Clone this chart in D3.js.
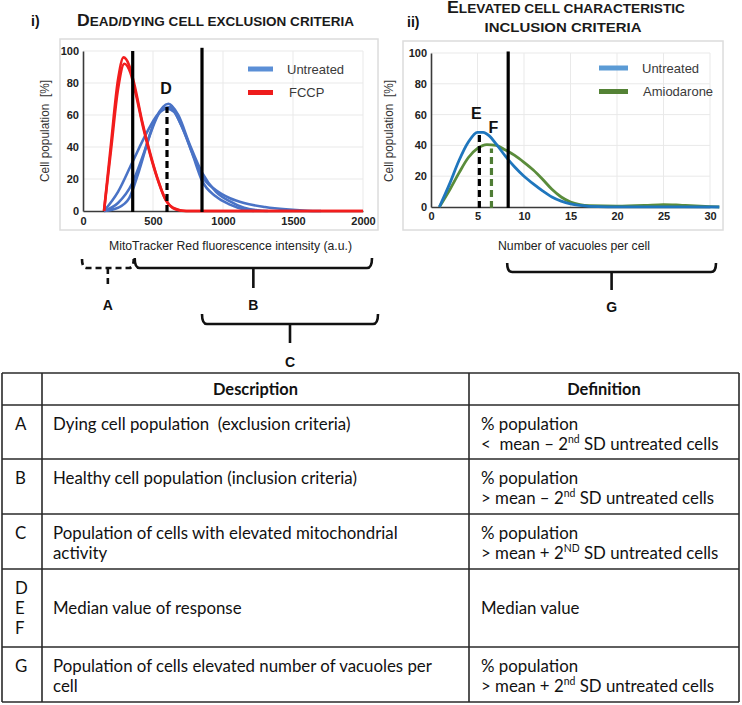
<!DOCTYPE html>
<html>
<head>
<meta charset="utf-8">
<script src="https://cdn.jsdelivr.net/npm/d3@7"></script>
<style>
  body { margin: 0; background: #fff; }
  svg { display: block; }
  text { white-space: pre; }
</style>
</head>
<body>
<svg id="fig" width="742" height="705"></svg>
<script>
// ---- data ----
const mitoTicks = [0, 500, 1000, 1500, 2000];
const vacuoleTicks = [0, 5, 10, 15, 20, 25, 30];
const popTicks = [0, 20, 40, 60, 80, 100];

// MitoTracker Red intensity (a.u.) vs cell population (%)
const untreatedMito1 = [[150,0],[250,12],[350,30],[450,48],[530,60],[600,64],[650,62],[720,50],[800,32],[850,22],[950,13],[1050,8],[1150,5],[1300,2.5],[1450,1],[1600,0.2],[1700,0]];
const untreatedMito2 = [[150,0],[250,5],[350,17],[430,35],[520,58],[610,67],[680,60],[760,42],[850,24],[950,12],[1050,6],[1150,2],[1250,0.5],[1320,0]];
const untreatedMito3 = [[150,0],[250,2],[330,8],[400,25],[480,48],[560,63],[620,65],[700,54],[780,36],[850,19],[950,9],[1050,4],[1150,1],[1220,0]];
const fccpMito1 = [[150,0],[200,42],[250,82],[290,96],[330,91],[370,78],[420,57],[480,36],[530,21],[580,9],[620,3.5],[680,0.8],[730,0],[2000,0]];
const fccpMito2 = [[150,0],[200,38],[250,76],[295,92],[340,86],[380,72],[430,52],[490,32],[540,18],[590,7],[640,2],[700,0.3],[740,0],[2000,0]];
const mitoCutoffs = [355, 850];       // mean -/+ 2nd SD untreated
const mitoCutoffTops = [100, 102];
const mitoMedian = [600, 65];         // D

// number of vacuoles per cell vs cell population (%)
const untreatedVac = [[0.9,0],[2,15],[3,30],[4,42],[5,48.5],[5.6,48.5],[6.3,46],[7,41],[8,33],[9,26],[10,20],[11,15],[12,10.5],[13,6.5],[14,3.8],[15,2],[16,1],[17,0.4],[19,0.1],[31,0]];
const amiodaroneVac = [[0.9,0],[2,11],[3,22],[4,32],[5,38],[6,40.5],[7,40],[8,37],[9,33.5],[10,29],[11,24],[12,18],[13,11.5],[14,6.5],[15,3.2],[16,1.5],[17,0.8],[20,0.5],[23,1],[25,1.6],[27,1.1],[30,0.3],[31,0]];
const vacCutoff = [8.3, 101];
const vacMedianUntreated = [5.2, 48];     // E
const vacMedianAmiodarone = [6.5, 38];    // F

// table
const tableKeys = [["A"], ["B"], ["C"], ["D", "E", "F"], ["G"]];
const tableDescriptions = [
  ["Dying cell population  (exclusion criteria)"],
  ["Healthy cell population (inclusion criteria)"],
  ["Population of cells with elevated mitochondrial", "activity"],
  ["Median value of response"],
  ["Population of cells elevated number of vacuoles per", "cell"]
];
const tableDefinitions = [
  ["% population", "<  mean \u2013 2^nd^ SD untreated cells"],
  ["% population", "> mean \u2013 2^nd^ SD untreated cells"],
  ["% population", "> mean + 2^ND^ SD untreated cells"],
  ["Median value"],
  ["% population", "> mean + 2^nd^ SD untreated cells"]
];

// ---- drawing ----
const svg = d3.select("#fig");
const chartFont = "'Liberation Sans', Arial, sans-serif";
const tableFont = "Lato, 'Open Sans', sans-serif";

function frame(box, x, y, xTicks, yTicks, xPad) {
  const g = svg.append("g");
  g.append("rect")
    .attr("x", box[0]).attr("y", box[1])
    .attr("width", box[2] - box[0]).attr("height", box[3] - box[1])
    .attr("fill", "none").attr("stroke", "#dcdcdc").attr("stroke-width", 1.5);

  g.append("g").selectAll("line").data(xTicks.slice(1)).enter().append("line")
    .attr("x1", d => x(d)).attr("x2", d => x(d))
    .attr("y1", y.range()[0]).attr("y2", y.range()[1])
    .attr("stroke", "#e9e9e9").attr("stroke-width", 1);
  g.append("g").selectAll("line").data(yTicks.slice(1)).enter().append("line")
    .attr("x1", x.range()[0]).attr("x2", x.range()[1])
    .attr("y1", d => y(d)).attr("y2", d => y(d))
    .attr("stroke", "#e9e9e9").attr("stroke-width", 1);

  const ax = g.append("g")
    .attr("transform", `translate(0,${y.range()[0]})`)
    .call(d3.axisBottom(x).tickValues(xTicks).tickSize(0).tickPadding(xPad).tickFormat(d3.format("d")));
  const ay = g.append("g")
    .attr("transform", `translate(${x.range()[0]},0)`)
    .call(d3.axisLeft(y).tickValues(yTicks).tickSize(0).tickPadding(4));
  [ax, ay].forEach(a => {
    a.select(".domain").attr("stroke", "#3a3a3a").attr("stroke-width", 1.6);
    a.selectAll("text").attr("font-family", chartFont).attr("font-weight", "bold")
      .attr("font-size", 11).attr("fill", "#222");
  });
  return g;
}

function curve(x, y, data, color, width) {
  svg.append("path")
    .datum(data)
    .attr("fill", "none")
    .attr("stroke", color)
    .attr("stroke-width", width)
    .attr("stroke-linejoin", "round")
    .attr("d", d3.line().x(d => x(d[0])).y(d => y(d[1])).curve(d3.curveMonotoneX));
}

function vline(x, y, xv, top, color, dashed) {
  svg.append("line")
    .attr("x1", x(xv)).attr("x2", x(xv))
    .attr("y1", y(0) + 1).attr("y2", y(top))
    .attr("stroke", color).attr("stroke-width", 3.2)
    .attr("stroke-dasharray", dashed ? "7,4" : null);
}

function legend(items, x0, y0) {
  items.forEach((it, i) => {
    const yy = y0 + i * 23.5;
    svg.append("line").attr("x1", x0).attr("x2", x0 + it.len).attr("y1", yy).attr("y2", yy)
      .attr("stroke", it.color).attr("stroke-width", 5);
    svg.append("text").attr("x", x0 + it.len + 14 + (it.dx || 0)).attr("y", yy).attr("dy", "0.35em")
      .attr("font-family", chartFont).attr("font-size", 13).attr("fill", "#3a3a3a")
      .text(it.label);
  });
}

function label(txt, x, y, size, opts = {}) {
  const t = svg.append("text").attr("x", x).attr("y", y)
    .attr("font-family", opts.font || chartFont)
    .attr("font-size", size)
    .attr("font-weight", opts.weight || "normal")
    .attr("fill", opts.fill || "#111")
    .attr("text-anchor", opts.anchor || "middle")
    .text(txt);
  if (opts.len) t.attr("textLength", opts.len).attr("lengthAdjust", "spacingAndGlyphs");
  if (opts.rotate) t.attr("transform", `rotate(-90,${x},${y})`);
  if (opts.dy) t.attr("dy", opts.dy);
  return t;
}

// small-caps title: a large first letter (if asked), the rest as smaller capitals
function capsTitle(txt, x, y, big, small, len, anchor, bigFirst) {
  const t = svg.append("text").attr("x", x).attr("y", y)
    .attr("font-family", chartFont).attr("font-weight", "bold").attr("fill", "#1a1a1a")
    .attr("text-anchor", anchor)
    .attr("textLength", len).attr("lengthAdjust", "spacingAndGlyphs");
  const rest = bigFirst ? txt.slice(1) : txt;
  if (bigFirst) t.append("tspan").attr("font-size", big).text(txt[0]);
  t.append("tspan").attr("font-size", small).text(rest.toUpperCase());
  return t;
}

// panel i)
const xM = d3.scaleLinear().domain([0, 2000]).range([83, 363]);
const yM = d3.scaleLinear().domain([0, 100]).range([211, 51]);
frame([60, 39, 378, 230], xM, yM, mitoTicks, popTicks, 6);
[untreatedMito1, untreatedMito2, untreatedMito3].forEach(d => curve(xM, yM, d, "#4a73c6", 2.6));
[fccpMito1, fccpMito2].forEach(d => curve(xM, yM, d, "#f21d1d", 2.6));
mitoCutoffs.forEach((c, i) => vline(xM, yM, c, mitoCutoffTops[i], "#000", false));
vline(xM, yM, mitoMedian[0], mitoMedian[1], "#000", true);
label("D", xM(mitoMedian[0]) - 1, 94, 16, { weight: "bold" });
legend([
  { label: "Untreated", color: "#5b8fd6", len: 25 },
  { label: "FCCP", color: "#ee1c1c", len: 25, dx: 2 }
], 248, 69);
label("Cell population  [%]", 45, 131, 12, { rotate: true, dy: "0.35em", fill: "#333", len: 102 });
label("i)", 31, 26, 14, { weight: "bold", anchor: "start" });
capsTitle("Dead/dying cell exclusion criteria", 77, 26, 16, 12.3, 277, "start", true);
label("MitoTracker Red fluorescence intensity (a.u.)", 230.5, 250, 12.5, { len: 243, fill: "#222" });

// panel ii)
const xV = d3.scaleLinear().domain([0, 30]).range([431, 710]);
const yV = d3.scaleLinear().domain([0, 100]).range([207, 53]);
frame([403, 41, 723, 230], xV, yV, vacuoleTicks, popTicks, 5);
curve(xV, yV, amiodaroneVac, "#5a8c3b", 2.8);
curve(xV, yV, untreatedVac, "#1f76bd", 2.8);
vline(xV, yV, vacCutoff[0], vacCutoff[1], "#000", false);
vline(xV, yV, vacMedianUntreated[0], vacMedianUntreated[1], "#000", true);
vline(xV, yV, vacMedianAmiodarone[0], vacMedianAmiodarone[1], "#4f7d35", true);
label("E", xV(vacMedianUntreated[0]) - 3, 119, 16, { weight: "bold" });
label("F", xV(vacMedianAmiodarone[0]) + 2, 133, 16, { weight: "bold" });
legend([
  { label: "Untreated", color: "#5b9bd5", len: 29 },
  { label: "Amiodarone", color: "#548235", len: 29, dx: 1 }
], 599, 68);
label("Cell population  [%]", 389, 131, 12, { rotate: true, dy: "0.35em", fill: "#333", len: 102 });
label("ii)", 407, 27, 14, { weight: "bold", anchor: "start" });
capsTitle("Elevated cell characteristic", 447, 13, 16, 12.3, 238, "start", true);
capsTitle("inclusion criteria", 563, 32, 16, 12.3, 157, "middle", false);
label("Number of vacuoles per cell", 574, 250, 12.5, { len: 152, fill: "#222" });

// braces
function brace(x1, x2, top, mid, stem, dashed) {
  const r = 5;
  const p = d3.path();
  p.moveTo(x1, top);
  p.quadraticCurveTo(x1, mid, x1 + r, mid);
  p.lineTo(x2 - r, mid);
  p.quadraticCurveTo(x2, mid, x2, top);
  const cx = (x1 + x2) / 2;
  p.moveTo(cx, mid);
  p.lineTo(cx, stem);
  svg.append("path").attr("d", p.toString())
    .attr("fill", "none").attr("stroke", "#111").attr("stroke-width", 2.6)
    .attr("stroke-dasharray", dashed ? "6,4" : null);
  return cx;
}
const aX = brace(xM(0) - 1, xM(mitoCutoffs[0]) + 1, 259, 268, 288, true);
const bX = brace(xM(mitoCutoffs[0]) + 2, xM(2000) + 9, 258, 268, 288, false);
const cX = brace(xM(mitoCutoffs[1]), xM(2000) + 15, 314, 324, 343, false);
const gX = brace(xV(vacCutoff[0]) - 1, xV(30) + 6, 263, 272, 290, false);
label("A", aX, 310, 14, { weight: "bold" });
label("B", bX, 310, 14, { weight: "bold" });
label("C", cX, 367, 14, { weight: "bold" });
label("G", gX, 312, 14, { weight: "bold" });

// table
const colX = [2, 42, 469, 739];
const rowY = [373, 405, 459, 514, 569, 647, 702];
const tg = svg.append("g");
rowY.forEach(yy => tg.append("line").attr("x1", colX[0]).attr("x2", colX[3]).attr("y1", yy).attr("y2", yy)
  .attr("stroke", "#2a2a2a").attr("stroke-width", 1.6));
colX.forEach(xx => tg.append("line").attr("x1", xx).attr("x2", xx).attr("y1", rowY[0]).attr("y2", rowY[rowY.length - 1])
  .attr("stroke", "#2a2a2a").attr("stroke-width", 1.6));

// fit Lato to the Calibri widths of the original
function fitSize(str, target, weight) {
  const t = tg.append("text").attr("font-family", tableFont).attr("font-size", 20)
    .attr("font-weight", weight).text(str);
  const w = t.node().getComputedTextLength();
  t.remove();
  return 20 * target / w;
}
const bodySize = fitSize("Population of cells with elevated mitochondrial", 345, "normal");
const headSize = fitSize("Description", 85, "bold");

function tText(str, x, y, size, weight, anchor) {
  const t = tg.append("text").attr("x", x).attr("y", y).attr("dy", "0.35em")
    .attr("font-family", tableFont).attr("font-size", size).attr("font-weight", weight || "normal")
    .attr("fill", "#111").attr("text-anchor", anchor || "start");
  const lift = size * 0.38;
  let raised = false;
  str.split("^").forEach((part, i) => {
    if (!part) return;
    const s = t.append("tspan").text(part);
    if (i % 2 === 1) {
      s.attr("font-size", size * 0.62).attr("dy", -lift);
      raised = true;
    } else if (raised) {
      s.attr("dy", lift);
      raised = false;
    }
  });
  return t;
}
tText("Description", (colX[1] + colX[2]) / 2, 389, headSize, "bold", "middle");
tText("Definition", (colX[2] + colX[3]) / 2, 389, headSize, "bold", "middle");

const lineGap = 20;
tableKeys.forEach((keys, i) => {
  const top = rowY[i + 1];
  const bottom = rowY[i + 2];
  const first = keys.length > 1 ? (top + bottom) / 2 - lineGap : top + 19;
  keys.forEach((k, j) => tText(k, 15, first + j * lineGap, bodySize));
  const descStart = keys.length > 1 ? (top + bottom) / 2 : top + 19;
  tableDescriptions[i].forEach((s, j) => tText(s, 53, descStart + j * lineGap, bodySize));
  tableDefinitions[i].forEach((s, j) => tText(s, 481, descStart + j * lineGap, bodySize));
});
</script>
</body>
</html>
